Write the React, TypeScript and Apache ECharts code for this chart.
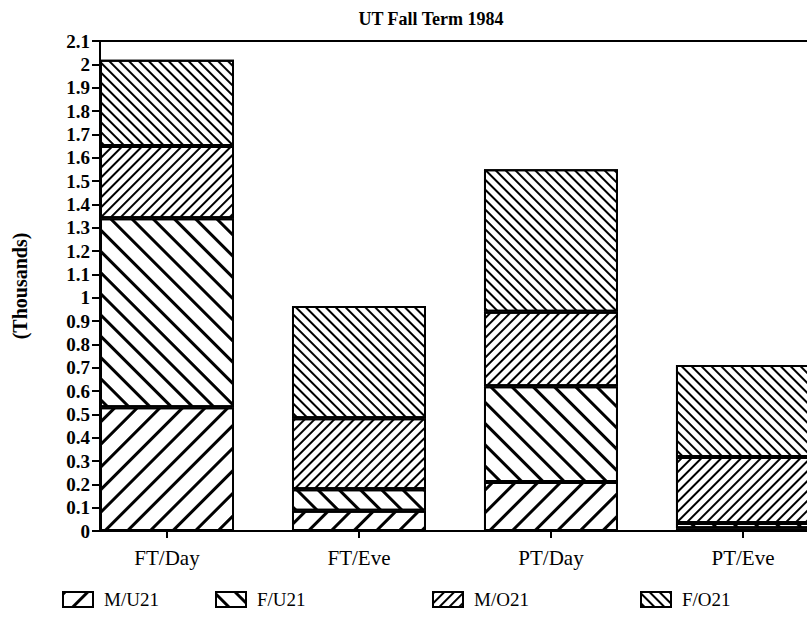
import React, { useEffect, useRef } from "react";
import * as echarts from "echarts";

const categories = ["FT/Day", "FT/Eve", "PT/Day", "PT/Eve"];
const seriesNames = ["M/U21", "F/U21", "M/O21", "F/O21"];
const mU21 = [0.53, 0.087, 0.21, 0.012];
const fU21 = [0.81, 0.092, 0.41, 0.022];
const mO21 = [0.31, 0.304, 0.32, 0.283];
const fO21 = [0.37, 0.481, 0.61, 0.394];
const seriesValues = [mU21, fU21, mO21, fO21];
const catPositions = [0, 1, 2, 3];

const SERIF = "'Liberation Serif', 'DejaVu Serif', serif";

const decals = [
  { dashArrayY: [2.2, 13], rotation: -Math.PI / 4 },
  { dashArrayY: [2.2, 12], rotation: Math.PI / 4 },
  { dashArrayY: [1.8, 4.6], rotation: -Math.PI / 4 },
  { dashArrayY: [2, 5], rotation: Math.PI / 4 },
];

const legendLefts = [62, 215, 432, 640];

export default function App() {
  const ref = useRef<HTMLDivElement>(null);
  useEffect(() => {
    if (!ref.current) return;
    const chart = echarts.init(ref.current, null, { renderer: "svg" });
    const series = seriesNames.map((name, i) => ({
      name,
      type: "bar",
      stack: "total",
      barWidth: 134,
      // column 0: value (y), column 1: category position (x)
      data: seriesValues[i].map((v, j) => [v, catPositions[j]]),
      encode: { x: 1, y: 0 },
      itemStyle: {
        color: "#fff",
        borderColor: "#000",
        borderWidth: 2,
        decal: {
          symbol: "rect",
          symbolSize: 1,
          color: "#000",
          backgroundColor: "#fff",
          dashArrayX: [1, 0],
          dashArrayY: decals[i].dashArrayY,
          rotation: decals[i].rotation,
        },
      },
    }));
    chart.setOption({
      animation: false,
      title: {
        text: "UT Fall Term 1984",
        left: 426,
        top: 5,
        textAlign: "center",
        textStyle: { fontFamily: SERIF, fontWeight: "bold", fontSize: 18, color: "#000" },
      },
      legend: seriesNames.map((n, i) => ({
        data: [n],
        left: legendLefts[i],
        top: 590,
        padding: 0,
        icon: "rect",
        itemWidth: 30,
        itemHeight: 15,
        itemGap: 10,
        textStyle: { fontFamily: SERIF, fontSize: 19, color: "#000", padding: [0, 0, 0, 6] },
        selectedMode: false,
      })),
      grid: {
        left: 100,
        top: 41,
        bottom: 91,
        width: 719,
        outerBoundsMode: "none",
        containLabel: false,
        show: true,
        borderColor: "#000",
        borderWidth: 2,
        backgroundColor: "transparent",
      },
      xAxis: {
        type: "value",
        min: -0.349,
        max: 3.396,
        axisLine: { lineStyle: { color: "#000", width: 2 } },
        axisTick: { show: true, customValues: catPositions, length: 7, lineStyle: { color: "#000", width: 2 } },
        axisLabel: {
          customValues: catPositions,
          formatter: (v: number) => categories[Math.round(v)] ?? "",
          fontFamily: SERIF,
          fontSize: 21,
          color: "#000",
          margin: 16,
        },
        splitLine: { show: false },
      },
      yAxis: {
        type: "value",
        min: 0,
        max: 2.1,
        interval: 0.1,
        name: "(Thousands)",
        nameLocation: "middle",
        nameGap: 70,
        nameTextStyle: { fontFamily: SERIF, fontWeight: "bold", fontSize: 20, color: "#000" },
        axisLine: { show: true, onZero: false, lineStyle: { color: "#000", width: 2 } },
        axisTick: { show: true, length: 8, lineStyle: { color: "#000", width: 2 } },
        axisLabel: { fontFamily: SERIF, fontWeight: "bold", fontSize: 19, color: "#000", margin: 10 },
        splitLine: { show: false },
      },
      series,
    });
    return () => chart.dispose();
  }, []);
  return <div ref={ref} style={{ width: 807, height: 622, position: "absolute", left: 0, top: 0 }} />;
}
